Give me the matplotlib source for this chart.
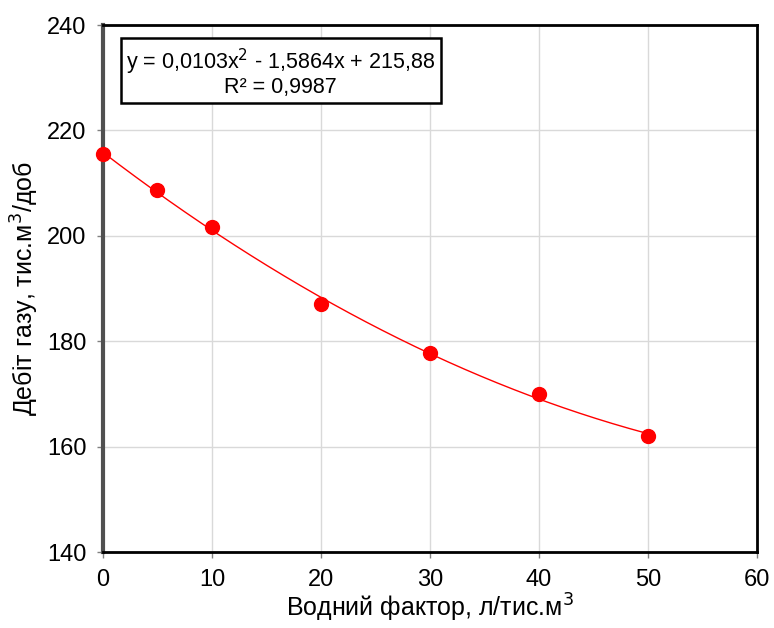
import numpy as np
import matplotlib.pyplot as plt

plt.rcParams['font.family'] = ['Liberation Sans', 'DejaVu Sans']

# data
water_factor = [0, 5, 10, 20, 30, 40, 50]
gas_rate = [215.5, 208.7, 201.6, 187.1, 177.7, 170.0, 162.0]
eq_text = 'y = 0,0103x$^{2}$ - 1,5864x + 215,88\nR² = 0,9987'
x_ticks = [0, 10, 20, 30, 40, 50, 60]
y_ticks = [140, 160, 180, 200, 220, 240]

fig = plt.figure(figsize=(7.74, 6.28), dpi=100)
ax = fig.add_axes([0.133, 0.121, 0.845, 0.839])

# 2nd order trend line
coef = np.polyfit(water_factor, gas_rate, 2)
xs = np.linspace(min(water_factor), max(water_factor), 200)
ax.plot(xs, np.polyval(coef, xs), color='red', lw=1, zorder=3)
ax.plot(water_factor, gas_rate, 'o', color='red', ms=10, zorder=4, clip_on=False)

ax.set_xlim(0, 60)
ax.set_ylim(140, 240)
ax.set_xticks(x_ticks)
ax.set_yticks(y_ticks)
ax.grid(True, color='#d9d9d9', lw=1)
ax.set_axisbelow(True)
ax.tick_params(labelsize=17, color='#808080', length=4, width=1, pad=8)

for s in ['top', 'right', 'bottom']:
    ax.spines[s].set_linewidth(2)
    ax.spines[s].set_color('black')
ax.spines['left'].set_linewidth(3)
ax.spines['left'].set_color('#505050')

ax.set_xlabel('Водний фактор, л/тис.м$^3$', fontsize=18, labelpad=1)
ax.set_ylabel('Дебіт газу, тис.м$^3$/доб', fontsize=18, labelpad=4)

ax.text(0.272, 0.911, eq_text, transform=ax.transAxes, ha='center', va='center',
        fontsize=15.5, multialignment='center', linespacing=1.0,
        bbox=dict(boxstyle='square,pad=0.25', fc='white', ec='black', lw=1.8))

fig.savefig('out.png')
